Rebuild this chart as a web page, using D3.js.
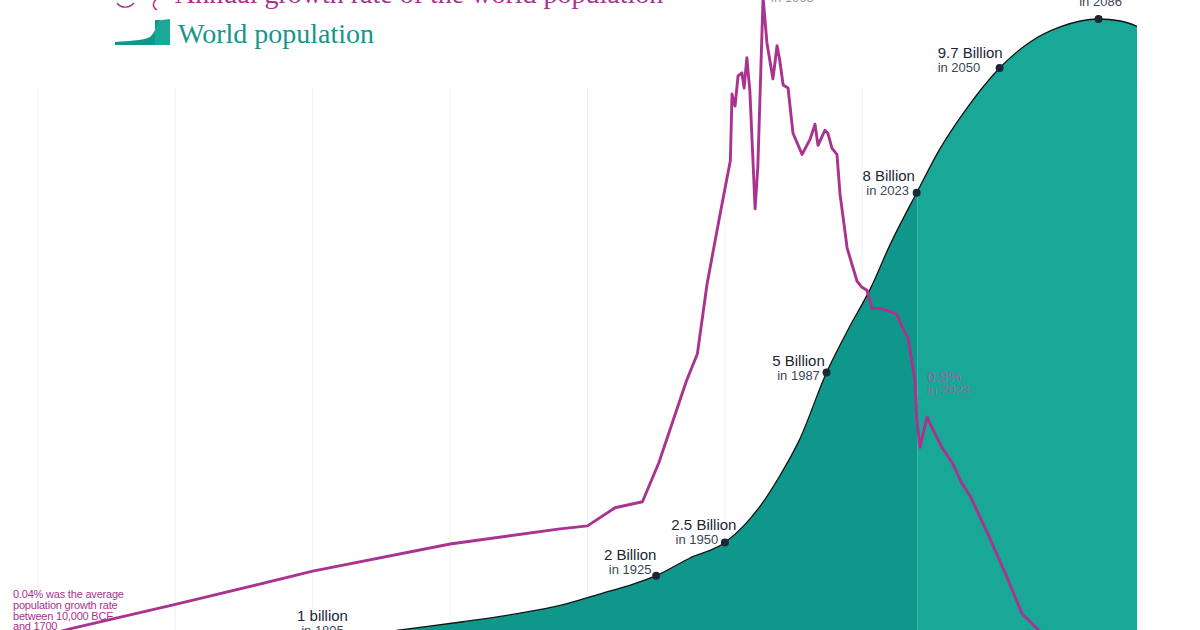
<!DOCTYPE html>
<html>
<head>
<meta charset="utf-8">
<script src="https://cdn.jsdelivr.net/npm/d3@7"></script>
<style>
  html, body { margin: 0; padding: 0; background: #fff; }
  svg { display: block; }
</style>
</head>
<body>
<div id="chart"></div>
<script>
// world population, billions (historical estimates)
const popYears = [1700, 1750, 1800, 1832, 1854, 1875, 1890, 1905, 1915, 1925, 1937, 1950, 1957, 1963, 1970, 1977, 1987, 1995, 2003, 2010, 2020];
const popValues = [0.60, 0.79, 0.98, 1.17, 1.29, 1.42, 1.54, 1.72, 1.84, 1.99, 2.25, 2.49, 2.75, 3.05, 3.50, 4.03, 5.06, 5.72, 6.33, 6.98, 7.79];

// projection, billions
const projYears = [2020, 2028, 2037, 2050, 2061, 2072, 2086, 2094, 2100];
const projValues = [7.79, 8.42, 8.99, 9.66, 10.05, 10.28, 10.40, 10.37, 10.29];

// annual growth rate of world population, %
const rateYears = [1700, 1712, 1750, 1800, 1850, 1890, 1900, 1910, 1920, 1926, 1936, 1940, 1943.5, 1948, 1952, 1952.6, 1953.7, 1954.8, 1956.2, 1957, 1958, 1959.1, 1961, 1962, 1963.9, 1965.3, 1967.5, 1969, 1970, 1971.2, 1973, 1974.8, 1978.1, 1981, 1982.8, 1983.9, 1986.4, 1987.5, 1989, 1990.8, 1991.9, 1994.5, 1998.1, 1999.9, 2001.7, 2003.5, 2006.5, 2010.1, 2012.6, 2014.5, 2016.7, 2019.2, 2019.9, 2021, 2023.6, 2025.7, 2029, 2032.7, 2036.3, 2039.2, 2045.4, 2052.7, 2058.1, 2063.6, 2075, 2100];
const rateValues = [0.18, 0.21, 0.29, 0.40, 0.49, 0.54, 0.55, 0.61, 0.63, 0.76, 1.03, 1.12, 1.35, 1.57, 1.76, 1.98, 1.94, 2.04, 2.05, 2.00, 2.10, 1.99, 1.60, 1.74, 2.30, 2.15, 2.03, 2.14, 2.09, 2.01, 2.00, 1.85, 1.78, 1.83, 1.88, 1.81, 1.86, 1.85, 1.80, 1.78, 1.65, 1.47, 1.36, 1.34, 1.33, 1.27, 1.27, 1.26, 1.25, 1.21, 1.17, 1.03, 0.90, 0.81, 0.91, 0.87, 0.81, 0.76, 0.69, 0.65, 0.53, 0.38, 0.26, 0.21, 0.10, -0.05];

// milestones on the population curve
const milestoneYears = [1805, 1925, 1950, 1987, 2019.8, 2050, 2086];
const milestoneTitles = ["1 billion", "2 Billion", "2.5 Billion", "5 Billion", "8 Billion", "9.7 Billion", "10.4 Billion"];
const milestoneSubs = ["in 1805", "in 1925", "in 1950", "in 1987", "in 2023", "in 2050", "in 2086"];

const gridYears = d3.range(1700, 2101, 50);

const W = 1200, H = 630;
const COLORS = {
  rate: "#a9338f",
  popDark: "#0f978b",
  popLight: "#19a898",
  popText: "#14968a",
  label: "#1b2636",
  subLabel: "#3a4656",
  grid: "#f2f2f2",
};
const SANS = "'Liberation Sans', Arial, Helvetica, sans-serif";
const SERIF = "'Liberation Serif', 'Times New Roman', serif";

// label offsets from each milestone dot
const labelLayout = [
  { dx: -4, dy: -20, anchor: "middle", subDx: 0 },
  { dx: -26, dy: -16, anchor: "middle", subDx: 0 },
  { dx: -21, dy: -13, anchor: "middle", subDx: -7 },
  { dx: -28, dy: -6, anchor: "middle", subDx: 0 },
  { dx: -28, dy: -12, anchor: "middle", subDx: -1 },
  { dx: -62, dy: -10, anchor: "start", subDx: 0 },
  { dx: 2, dy: -27, anchor: "middle", subDx: 0 },
];

const svg = d3.select("#chart").append("svg")
  .attr("width", W)
  .attr("height", H)
  .attr("viewBox", `0 0 ${W} ${H}`);

const x = d3.scaleLinear().domain([1700, 2100]).range([38, 1137]);
const yPop = d3.scaleLinear().domain([0, 10.4]).range([707.4, 19]);
const yRate = d3.scaleLinear().domain([0, 2.3]).range([692, -2.6]);

const popData = popYears.map((yr, i) => ({ year: yr, value: popValues[i] }));
const projData = projYears.map((yr, i) => ({ year: yr, value: projValues[i] }));
const allPop = popData.concat(projData.slice(1));
const rateData = rateYears.map((yr, i) => ({ year: yr, value: rateValues[i] }));

// gridlines
svg.append("g")
  .selectAll("line")
  .data(gridYears)
  .enter()
  .append("line")
  .attr("x1", (d) => x(d))
  .attr("x2", (d) => x(d))
  .attr("y1", 88)
  .attr("y2", H)
  .attr("stroke", COLORS.grid)
  .attr("stroke-width", 1);

// population areas
const area = d3.area()
  .x((d) => x(d.year))
  .y0(yPop(0))
  .y1((d) => yPop(d.value))
  .curve(d3.curveMonotoneX);

svg.append("path")
  .datum(popData)
  .attr("d", area)
  .attr("fill", COLORS.popDark);

svg.append("path")
  .datum(projData)
  .attr("d", area)
  .attr("fill", COLORS.popLight);

svg.append("path")
  .datum(allPop)
  .attr("d", d3.line().x((d) => x(d.year)).y((d) => yPop(d.value)).curve(d3.curveMonotoneX))
  .attr("fill", "none")
  .attr("stroke", "#111")
  .attr("stroke-width", 1.3);

// growth rate line
svg.append("path")
  .datum(rateData)
  .attr("d", d3.line().x((d) => x(d.year)).y((d) => yRate(d.value)).curve(d3.curveLinear))
  .attr("fill", "none")
  .attr("stroke", COLORS.rate)
  .attr("stroke-width", 2.9)
  .attr("stroke-linejoin", "round");

// milestone dots + labels
const popAt = (yr) => {
  const i = d3.bisector((d) => d.year).left(allPop, yr);
  if (i <= 0) return allPop[0].value;
  if (i >= allPop.length) return allPop[allPop.length - 1].value;
  const a = allPop[i - 1], b = allPop[i];
  return a.value + (b.value - a.value) * (yr - a.year) / (b.year - a.year);
};

const ms = svg.append("g").selectAll("g")
  .data(milestoneYears.map((yr, i) => ({ year: yr, title: milestoneTitles[i], sub: milestoneSubs[i], lay: labelLayout[i] })))
  .enter()
  .append("g")
  .attr("transform", (d) => `translate(${x(d.year)},${yPop(popAt(d.year))})`);

ms.append("circle")
  .attr("r", 4)
  .attr("fill", COLORS.label);

ms.append("text")
  .attr("x", (d) => d.lay.dx)
  .attr("y", (d) => d.lay.dy)
  .attr("text-anchor", (d) => d.lay.anchor)
  .attr("font-family", SANS)
  .attr("font-size", 15)
  .attr("fill", COLORS.label)
  .text((d) => d.title);

ms.append("text")
  .attr("x", (d) => d.lay.dx + d.lay.subDx)
  .attr("y", (d) => d.lay.dy + 14)
  .attr("text-anchor", (d) => d.lay.anchor)
  .attr("font-family", SANS)
  .attr("font-size", 13)
  .attr("fill", COLORS.subLabel)
  .text((d) => d.sub);

// growth rate annotations
const rateNote = svg.append("g").attr("font-family", SANS);
rateNote.append("text")
  .attr("x", x(2021) + 7)
  .attr("y", 382)
  .attr("font-size", 15)
  .attr("fill", "#b4559c")
  .attr("fill-opacity", 0.85)
  .text("0.9%");
rateNote.append("text")
  .attr("x", x(2021) + 7)
  .attr("y", 394)
  .attr("font-size", 13)
  .attr("fill", "#b4559c")
  .attr("fill-opacity", 0.85)
  .text("in 2023");
rateNote.append("text")
  .attr("x", x(1963.9) + 8)
  .attr("y", 2)
  .attr("font-size", 13)
  .attr("fill", "#9a9a9a")
  .text("in 1963");

const leftNote = ["0.04% was the average", "population growth rate", "between 10,000 BCE", "and 1700"];
svg.append("g")
  .selectAll("text")
  .data(leftNote)
  .enter()
  .append("text")
  .attr("x", 13)
  .attr("y", (d, i) => 598 + i * 10.8)
  .attr("font-family", SANS)
  .attr("font-size", 11)
  .attr("letter-spacing", -0.2)
  .attr("fill", COLORS.rate)
  .text((d) => d);

// legend
const legend = svg.append("g");
legend.append("path")
  .attr("d", "M117,3 C121,9 130,8 134,3 M158,-2 C152,2 152,7 157,10")
  .attr("fill", "none")
  .attr("stroke", COLORS.rate)
  .attr("stroke-width", 1.4);
legend.append("text")
  .attr("x", 175)
  .attr("y", 3)
  .attr("font-family", SERIF)
  .attr("font-size", 28)
  .attr("fill", COLORS.rate)
  .text("Annual growth rate of the world population");

legend.append("path")
  .attr("d", "M115,45 L115,42 C130,41 145,40 150,37 C155,33 157,24 161,20 L155,20 L155,45 Z")
  .attr("fill", COLORS.popDark);
legend.append("path")
  .attr("d", "M155,45 L155,30 C157,25 159,21 162,20 L170,19 L170,45 Z")
  .attr("fill", COLORS.popLight);
legend.append("text")
  .attr("x", 178)
  .attr("y", 43)
  .attr("font-family", SERIF)
  .attr("font-size", 28)
  .attr("fill", COLORS.popText)
  .text("World population");
</script>
</body>
</html>
